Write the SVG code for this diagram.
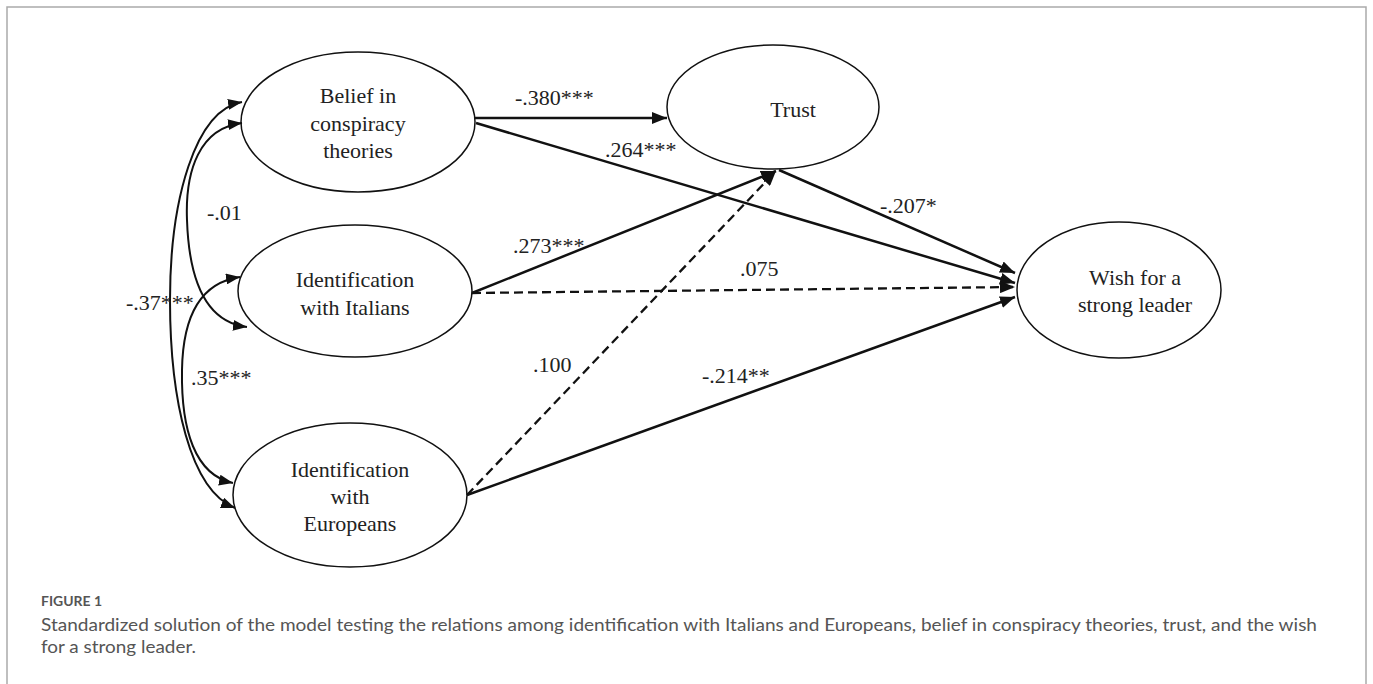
<svg xmlns="http://www.w3.org/2000/svg" width="1373" height="684" viewBox="0 0 1373 684">
<style>
.node ellipse{fill:#fff;stroke:#111;stroke-width:1.5}
.serif{font-family:'Liberation Serif','Times New Roman',Times,serif;font-size:22px;fill:#222}
.node text{text-anchor:middle}
.edge{fill:none;stroke:#111;stroke-width:2.5}
.dash{stroke-dasharray:9 5;stroke-width:2.3}
.curve{fill:none;stroke:#111;stroke-width:2}
.cap{font-family:Lato,'Open Sans',sans-serif;fill:#555}
</style>
<defs>
<marker id="ah" markerUnits="userSpaceOnUse" markerWidth="15" markerHeight="12" refX="15" refY="6" orient="auto">
<path d="M0,0 L15,6 L0,12 z" fill="#111"/>
</marker>
<marker id="ch" markerUnits="userSpaceOnUse" markerWidth="14" markerHeight="11" refX="14" refY="5.5" orient="auto-start-reverse">
<path d="M0,0 L14,5.5 L0,11 z" fill="#111"/>
</marker>
</defs>
<rect width="1373" height="684" fill="#fff"/>
<path d="M7,700 L7,7 L1366,7 L1366,700" fill="none" stroke="#aaa" stroke-width="1.5"/>

<g id="belief" class="node serif" font-family="Liberation Serif, serif">
<ellipse cx="358" cy="122" rx="117" ry="70"/>
<text x="358" y="103">Belief in</text>
<text x="358" y="131">conspiracy</text>
<text x="358" y="158">theories</text>
</g>
<g id="italians" class="node serif" font-family="Liberation Serif, serif">
<ellipse cx="355" cy="291" rx="117" ry="66"/>
<text x="355" y="287">Identification</text>
<text x="355" y="315">with Italians</text>
</g>
<g id="europeans" class="node serif" font-family="Liberation Serif, serif">
<ellipse cx="350" cy="495" rx="117" ry="72"/>
<text x="350" y="477">Identification</text>
<text x="350" y="504">with</text>
<text x="350" y="531">Europeans</text>
</g>
<g id="trust" class="node serif" font-family="Liberation Serif, serif">
<ellipse cx="773" cy="107" rx="106" ry="62"/>
<text x="793" y="117">Trust</text>
</g>
<g id="wish" class="node serif" font-family="Liberation Serif, serif">
<ellipse cx="1119" cy="290" rx="102" ry="68"/>
<text x="1135" y="285">Wish for a</text>
<text x="1135" y="312">strong leader</text>
</g>

<g id="connectors">
<path class="edge" d="M475,118 L667,118" marker-end="url(#ah)"/>
<path class="edge" d="M476,123 L1015,283" marker-end="url(#ah)"/>
<path class="edge" d="M779,170 L1015,273" marker-end="url(#ah)"/>
<path class="edge" d="M472,293 L776,171" marker-end="url(#ah)"/>
<path class="edge dash" d="M472,293 L1015,287" marker-end="url(#ah)"/>
<path class="edge dash" d="M467,495 L776,171" marker-end="url(#ah)"/>
<path class="edge" d="M467,495 L1015,297" marker-end="url(#ah)"/>
<path class="curve" d="M242,123 C200,128 185,170 187,220 C189,280 205,322 247,327" marker-start="url(#ch)" marker-end="url(#ch)"/>
<path class="curve" d="M242,102 C195,110 170,200 170,300 C170,400 190,490 235,508" marker-start="url(#ch)" marker-end="url(#ch)"/>
<path class="curve" d="M240,277 C205,282 183,310 182,370 C181,430 195,475 233,483" marker-start="url(#ch)" marker-end="url(#ch)"/>
</g>

<g id="labels" class="serif" font-family="Liberation Serif, serif">
<text x="515" y="105">-.380***</text>
<text x="605" y="157">.264***</text>
<text x="880" y="213">-.207*</text>
<text x="513" y="253">.273***</text>
<text x="740" y="276">.075</text>
<text x="533" y="372">.100</text>
<text x="702" y="383">-.214**</text>
<text x="207" y="220">-.01</text>
<text x="126" y="310">-.37***</text>
<text x="191" y="385">.35***</text>
</g>

<text class="cap" x="41" y="606" font-size="14" font-weight="bold" fill="#666" textLength="61" lengthAdjust="spacingAndGlyphs">FIGURE 1</text>
<text class="cap" x="41" y="631" font-size="16.5" textLength="1276" lengthAdjust="spacingAndGlyphs">Standardized solution of the model testing the relations among identification with Italians and Europeans, belief in conspiracy theories, trust, and the wish</text>
<text class="cap" x="41" y="653" font-size="16.5" textLength="155" lengthAdjust="spacingAndGlyphs">for a strong leader.</text>
</svg>
